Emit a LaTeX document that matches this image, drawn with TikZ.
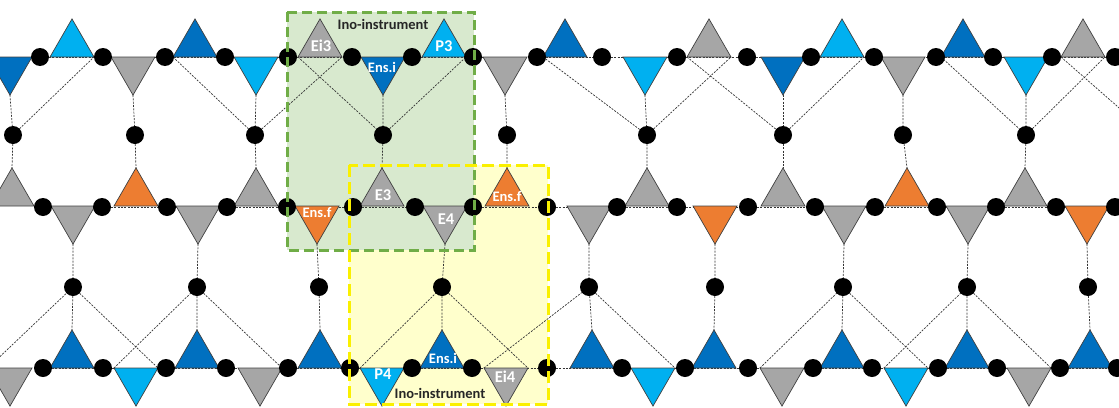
\documentclass[tikz,border=0pt]{standalone}
\usepackage{fontspec}
\setmainfont{Carlito}
\usetikzlibrary{shapes.geometric}
\pgfdeclarelayer{boxfill}
\pgfdeclarelayer{links}
\pgfdeclarelayer{front}
\pgfsetlayers{boxfill,links,main,front}
\definecolor{cDB}{RGB}{0,112,192}
\definecolor{cLB}{RGB}{0,176,240}
\definecolor{cG}{RGB}{166,166,166}
\definecolor{cO}{RGB}{237,125,49}
\definecolor{gboxfill}{RGB}{216,233,206}
\definecolor{gboxline}{RGB}{112,173,71}
\definecolor{yboxfill}{RGB}{255,255,204}
\definecolor{yboxline}{RGB}{250,240,0}
\definecolor{txt}{RGB}{38,38,38}
\begin{document}
\begin{tikzpicture}[x=1pt,y=-1pt,
  tri/.style={regular polygon, regular polygon sides=3, minimum size=50.8pt,
    inner sep=0pt, outer sep=0pt, draw=black!75, line width=0.7pt},
  dot/.style={circle, fill=black, minimum size=18pt, inner sep=0pt, outer sep=0pt},
  link/.style={draw=black!80, line width=0.7pt, dash pattern=on 2pt off 1.3pt},
  lab/.style={text=white, font=\bfseries\fontsize{16.5}{16.5}\selectfont, inner sep=0pt},
  labs/.style={text=white, font=\bfseries\fontsize{14.5}{14.5}\selectfont, inner sep=0pt},
  title/.style={text=txt, font=\bfseries\fontsize{14.5}{14.5}\selectfont, inner sep=0pt},
  gborder/.style={draw=gboxline, line width=3pt, dash pattern=on 10pt off 5pt},
  yborder/.style={draw=yboxline, line width=3pt, dash pattern=on 12pt off 5pt}
]
\useasboundingbox (0,0) rectangle (1119,407);
\clip (0,0) rectangle (1119,407);

% row 1 triangles (baseline y=57)
\foreach \x/\r/\s/\c [count=\i] in {10/180/-12.7/DB,72/0/12.7/LB,133/180/-12.7/G,195/0/12.7/DB,256/180/-12.7/LB,320/0/12.7/G,383/180/-12.7/DB,444/0/12.7/LB,505/180/-12.7/G,565/0/12.7/DB,645/180/-12.7/LB,709/0/12.7/G,783/180/-12.7/DB,842/0/12.7/LB,903/180/-12.7/G,963/0/12.7/DB,1026/180/-12.7/LB,1083/0/12.7/G}
  \node[tri, shape border rotate=\r, yshift=\s pt, fill=c\c] (a\i) at (\x,57) {};
% row 2 triangles (baseline y=206)
\foreach \x/\r/\s/\c [count=\i] in {12/0/12.7/G,73/180/-12.7/G,136/0/12.7/O,198/180/-12.7/G,256/0/12.7/G,317/180/-12.7/O,382/0/12.7/G,445/180/-12.7/G,507/0/12.7/O,589/180/-12.7/G,647/0/12.7/G,715/180/-12.7/O,783/0/12.7/G,844/180/-12.7/G,907/0/12.7/O,968/180/-12.7/G,1025/0/12.7/G,1087/180/-12.7/O}
  \node[tri, shape border rotate=\r, yshift=\s pt, fill=c\c] (b\i) at (\x,206) {};
% row 3 triangles (baseline y=368)
\foreach \x/\r/\s/\c [count=\i] in {10/180/-12.7/G,72/0/12.7/DB,136/180/-12.7/LB,197/0/12.7/DB,260/180/-12.7/G,320/0/12.7/DB,382/180/-12.7/LB,442/0/12.7/DB,506/180/-12.7/G,592/0/12.7/DB,653/180/-12.7/LB,714/0/12.7/DB,782/180/-12.7/G,842/0/12.7/DB,906/180/-12.7/LB,967/0/12.7/DB,1029/180/-12.7/G,1090/0/12.7/DB}
  \node[tri, shape border rotate=\r, yshift=\s pt, fill=c\c] (c\i) at (\x,368) {};

% row dots
\foreach \x [count=\i] in {40,103,165,225,288,352,412,473,537,602,677,747,811,874,936,993,1052,1115}
  \node[dot] (ra\i) at (\x,57) {};
\foreach \x [count=\i] in {43,102,167,227,287,353,415,473,547,617,677,748,815,875,937,996,1056,1115}
  \node[dot] (rb\i) at (\x,207) {};
\foreach \x [count=\i] in {43,103,166,226,288,350,412,472,547,622,685,748,813,872,938,997,1060,1117}
  \node[dot] (rc\i) at (\x,368) {};

% middle dots
\foreach \x/\k [count=\i] in {13/1,135/3,255/5,383/7,507/9,647/11,783/13,903/15,1026/17}
  \node[dot] (m\i) at (\x,135) {};
\foreach \x/\k [count=\i] in {73/2,197/4,319/6,442/8,589/10,715/12,843/14,967/16,1088/18}
  \node[dot] (n\i) at (\x,287) {};

\coordinate (offR) at (1150,135);

% triangle labels
\node[lab] (lEi3) at (321,46) {Ei3};
\node[labs] (lEnsi1) at (382,67) {Ens.i};
\node[lab] (lP3) at (444,46) {P3};
\node[labs] (lEnsf1) at (317,213) {Ens.f};
\node[lab] (lE3) at (383,195) {E3};
\node[lab] (lE4) at (446,219) {E4};
\node[labs] (lEnsf2) at (507,197) {Ens.f};
\node[lab] (lP4) at (383,374) {P4};
\node[labs] (lEnsi2) at (443,358) {Ens.i};
\node[lab] (lEi4) at (505,377) {Ei4};

\begin{pgfonlayer}{links}
  % row lines
  \foreach \i [evaluate=\i as \j using int(\i+1)] in {1,...,17} {
    \draw[link] (ra\i) -- (ra\j);
    \draw[link] (rb\i) -- (rb\j);
    \draw[link] (rc\i) -- (rc\j);
  }
  % verticals
  \foreach \k [count=\i] in {1,3,5,7,9,11,13,15,17}
    \draw[link] (a\k.corner 1) -- (m\i) -- (b\k.corner 1);
  \foreach \k [count=\i] in {2,4,6,8,10,12,14,16,18}
    \draw[link] (b\k.corner 1) -- (n\i) -- (c\k.corner 1);
  % diagonals between row 1 and middle dots
  \draw[link] (m1) -- (a2.corner 3);
  \foreach \i/\l/\r in {3/4/6,4/6/8,6/10/12,7/12/14,9/16/18}
    \draw[link] (a\l.corner 2) -- (m\i) -- (a\r.corner 3);
  \draw[link] (a18.corner 2) -- (offR);
  % diagonals between middle dots and row 3
  \foreach \i/\l/\r in {1/1/3,2/3/5,4/7/9,5/9/11,7/13/15,8/15/17}
    \draw[link] (c\l.corner 3) -- (n\i) -- (c\r.corner 2);
\end{pgfonlayer}

\begin{pgfonlayer}{boxfill}
  \fill[yboxfill] (349,165) rectangle (548,404);
  \fill[gboxfill] (287,12) rectangle (474,250);
\end{pgfonlayer}

\begin{pgfonlayer}{front}
  \draw[gborder] (287,12) rectangle (474,250);
  \draw[yborder] (349,165) rectangle (548,404);
  \node[title] (ino1) at (383,24) {Ino-instrument};
  \node[title] (ino2) at (440,393) {Ino-instrument};
\end{pgfonlayer}
\end{tikzpicture}
\end{document}
